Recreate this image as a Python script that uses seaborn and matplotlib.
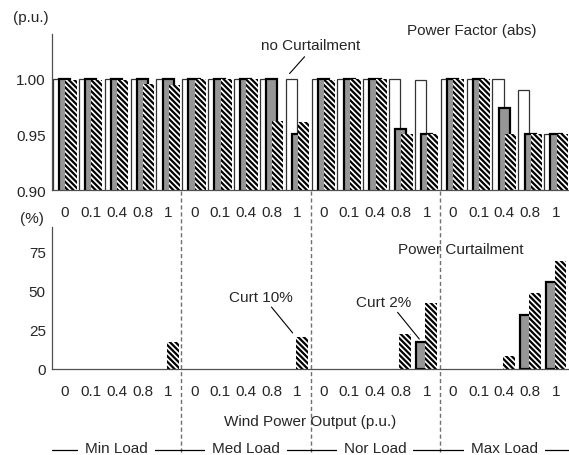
import numpy as np
import matplotlib
matplotlib.use("Agg")
import matplotlib.pyplot as plt
import seaborn as sns

# ---------------- data ----------------
loads = ["Min Load", "Med Load", "Nor Load", "Max Load"]
wind_levels = ["0", "0.1", "0.4", "0.8", "1"]

# Power factor (abs), p.u.
pf_no_curt = [1.000, 1.000, 1.000, 1.000, 1.000,
              1.000, 1.000, 1.000, 1.000, 1.000,
              1.000, 1.000, 1.000, 1.000, 0.999,
              1.000, 1.000, 1.000, 0.990, 0.950]
pf_curt2 = [1.000, 1.000, 1.000, 1.000, 1.000,
            1.000, 1.000, 1.000, 1.000, 0.950,
            1.000, 1.000, 1.000, 0.955, 0.950,
            1.000, 1.000, 0.974, 0.950, 0.950]
pf_curt10 = [0.999, 0.999, 0.999, 0.995, 0.994,
             1.000, 1.000, 1.000, 0.962, 0.961,
             0.999, 1.000, 1.000, 0.950, 0.950,
             1.000, 1.000, 0.950, 0.950, 0.950]

# Power curtailment (%)
curt2_pct = [0, 0, 0, 0, 0,
             0, 0, 0, 0, 0,
             0, 0, 0, 0, 17.0,
             0, 0, 0, 34.8, 55.6]
curt10_pct = [0, 0, 0, 0, 17.0,
              0, 0, 0, 0, 20.3,
              0, 0, 0, 22.4, 42.1,
              0, 0, 8.3, 48.7, 69.0]

# ---------------- style ----------------
sns.set_style("white")
plt.rcParams["font.family"] = ["Liberation Sans", "DejaVu Sans"]
plt.rcParams["hatch.linewidth"] = 1.6
FS = 11
GRAY = "#969696"
AXC = "#505050"
HATCH = "\\" * 6

fig = plt.figure(figsize=(5.69, 4.56), dpi=100)
L, W = 52 / 569, 517 / 569
ax1 = fig.add_axes([L, 1 - 191 / 456, W, (191 - 35) / 456])
ax2 = fig.add_axes([L, 1 - 370 / 456, W, (370 - 228) / 456])

n = len(loads) * len(wind_levels)
idx = np.arange(n)


def bars(ax, xpos, vals, **kw):
    xpos = np.asarray(xpos, float)
    vals = np.asarray(vals, float)
    m = vals > 0
    sns.barplot(x=xpos[m], y=vals[m], native_scale=True, saturation=1,
                errorbar=None, ax=ax, **kw)


# top panel: power factor
bars(ax1, idx + 0.255, pf_no_curt, width=0.43, color="white",
     edgecolor="#333333", linewidth=0.9)
bars(ax1, idx + 0.495, pf_curt2, width=0.43, color=GRAY,
     edgecolor="black", linewidth=1.6)
bars(ax1, idx + 0.735, pf_curt10, width=0.43, color="white",
     edgecolor="black", linewidth=0, hatch=HATCH)

# bottom panel: curtailment
bars(ax2, idx + 0.33, curt2_pct, width=0.46, color=GRAY,
     edgecolor="black", linewidth=1.6)
bars(ax2, idx + 0.67, curt10_pct, width=0.46, color="white",
     edgecolor="black", linewidth=0, hatch=HATCH)

ax1.set_ylim(0.90, 1.04)
ax1.set_yticks([0.90, 0.95, 1.00])
ax1.set_yticklabels(["0.90", "0.95", "1.00"])
ax2.set_ylim(0, 91)
ax2.set_yticks([0, 25, 50, 75])
ax2.set_yticklabels(["0", "25", "50", "75"])

for ax in (ax1, ax2):
    ax.set_xlim(0, n)
    ax.set_xlabel("")
    ax.set_ylabel("")
    ax.set_xticks(np.arange(n + 1))
    ax.set_xticklabels([""] * (n + 1))
    ax.set_xticks(idx + 0.5, minor=True)
    ax.set_xticklabels(wind_levels * len(loads), minor=True, fontsize=FS)
    ax.tick_params(axis="x", which="major", direction="out", length=4,
                   width=0.9, color=AXC)
    ax.tick_params(axis="x", which="minor", length=0, pad=11)
    ax.tick_params(axis="y", direction="out", length=3, width=0.9,
                   color=AXC, pad=1.5, labelsize=FS)
    for s in ("top", "right"):
        ax.spines[s].set_visible(False)
    for s in ("left", "bottom"):
        ax.spines[s].set_color(AXC)
        ax.spines[s].set_linewidth(0.9)
    ax.patch.set_alpha(0)

# annotations top
ax1.text(10.0, 1.0297, "no Curtailment", ha="center", va="center", fontsize=FS)
ax1.plot([9.77, 9.19], [1.0196, 1.0045], color="black", lw=0.8, clip_on=False)
ax1.text(16.25, 1.0437, "Power Factor (abs)", ha="center", va="center",
         fontsize=FS, clip_on=False)

# annotations bottom
ax2.text(8.09, 46.2, "Curt 10%", ha="center", va="center", fontsize=FS)
ax2.plot([8.49, 9.31], [39.7, 23.1], color="black", lw=0.8)
ax2.text(12.82, 43.1, "Curt 2%", ha="center", va="center", fontsize=FS)
ax2.plot([13.37, 14.21], [36.3, 19.2], color="black", lw=0.8)
ax2.text(15.81, 76.9, "Power Curtailment", ha="center", va="center", fontsize=FS)

# figure-level labels
fig.text(31 / 569, 1 - 18 / 456, "(p.u.)", ha="center", va="center", fontsize=FS)
fig.text(31.5 / 569, 1 - 219 / 456, "(%)", ha="center", va="center", fontsize=FS)
fig.text(310 / 569, 1 - 422 / 456, "Wind Power Output (p.u.)", ha="center",
         va="center", fontsize=FS)

# overlay for dashed separators and load labels (y in pixel rows)
ov = fig.add_axes([L, 0, W, 1])
ov.set_xlim(0, n)
ov.set_ylim(456, 0)
ov.axis("off")
ov.patch.set_alpha(0)
nw = len(wind_levels)
seps = [k * nw for k in range(1, len(loads))]
ov.vlines(seps, 192, 456, colors="#707070", linestyles=(0, (3, 2)), lw=1.0)
ov.plot([0, n], [451, 451], color="black", lw=0.9)
for k, name in enumerate(loads):
    ov.text(k * nw + nw / 2, 449.5, name, ha="center", va="center", fontsize=FS,
            bbox=dict(boxstyle="square,pad=0.45", fc="white", ec="none"))

fig.savefig("out.png", dpi=100)
